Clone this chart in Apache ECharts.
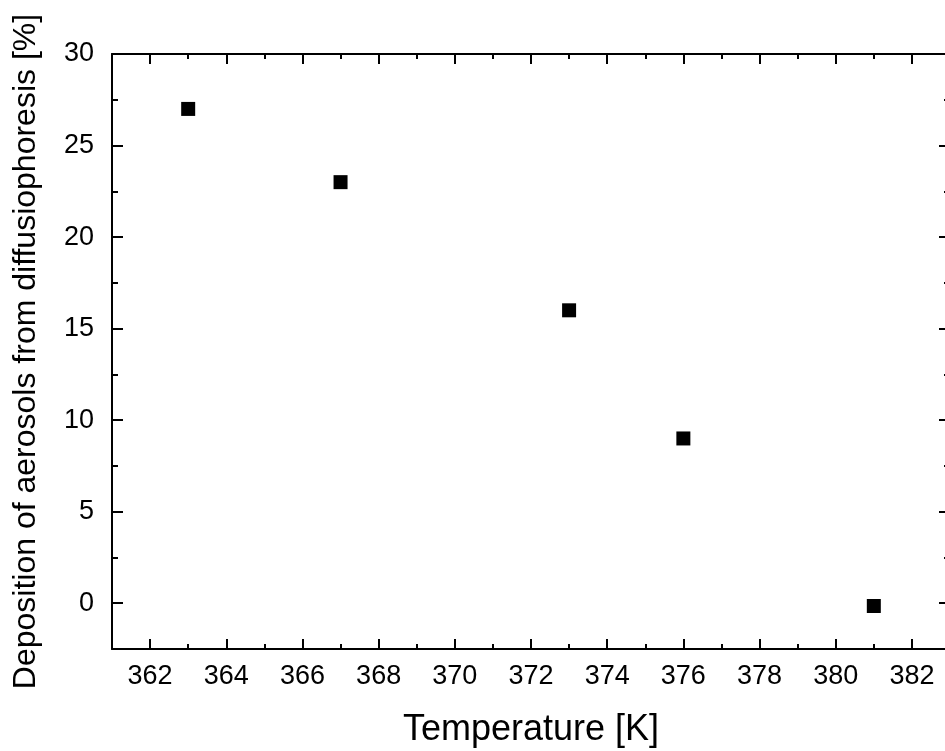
<!DOCTYPE html>
<html>
<head>
<meta charset="utf-8">
<script src="https://cdn.jsdelivr.net/npm/echarts@6/dist/echarts.min.js"></script>
<style>
html,body{margin:0;padding:0;background:#fff;}
#chart{width:945px;height:751px;}
</style>
</head>
<body>
<div id="chart"></div>
<script>
// Data
const temperature = [363, 367, 373, 376, 381];
const deposition = [27, 23, 16, 9, -0.15];

// Axis ranges and tick values
const xMin = 361, xMax = 383;
const yMin = -2.5, yMax = 30;
const xMajorTicks = [362, 364, 366, 368, 370, 372, 374, 376, 378, 380, 382];
const xMinorTicks = [363, 365, 367, 369, 371, 373, 375, 377, 379, 381];
const yMajorTicks = [0, 5, 10, 15, 20, 25, 30];
const yMinorTicks = [2.5, 7.5, 12.5, 17.5, 22.5, 27.5];

const xTitle = 'Temperature [K]';
const yTitle = 'Deposition of aerosols from diffusiophoresis [%]';

const FONT = "'Liberation Sans', Arial, sans-serif";
const lineStyle = {color: '#000', width: 2};

function axisBase(pos, min, max) {
  return {
    type: 'value', position: pos, min: min, max: max,
    splitLine: {show: false},
    axisLine: {show: false, onZero: false, lineStyle: lineStyle},
    axisTick: {show: false},
    axisLabel: {show: false}
  };
}
function tickAxis(pos, min, max, values, len, showLine) {
  const a = axisBase(pos, min, max);
  a.axisLine.show = !!showLine;
  a.axisTick = {show: true, inside: true, length: len, customValues: values, lineStyle: {color: '#000', width: 2}};
  return a;
}

const xMain = tickAxis('bottom', xMin, xMax, xMajorTicks, 10, true);
xMain.axisLabel = {show: true, customValues: xMajorTicks, color: '#000', fontFamily: FONT, fontSize: 27, margin: 14};
xMain.name = xTitle;
xMain.nameLocation = 'middle';
xMain.nameGap = 63;
xMain.nameTextStyle = {color: '#000', fontFamily: FONT, fontSize: 36};

const yMain = tickAxis('left', yMin, yMax, yMajorTicks, 11, true);
yMain.axisLabel = {show: true, customValues: yMajorTicks, color: '#000', fontFamily: FONT, fontSize: 27, margin: 18};
yMain.name = yTitle;
yMain.nameLocation = 'middle';
yMain.nameGap = 70;
yMain.nameTextStyle = {color: '#000', fontFamily: FONT, fontSize: 32};

const option = {
  backgroundColor: '#fff',
  animation: false,
  grid: {left: 112, top: 54, width: 838, height: 595, containLabel: false, outerBoundsMode: 'none'},
  xAxis: [
    xMain,
    tickAxis('bottom', xMin, xMax, xMinorTicks, 5, false),
    tickAxis('top', xMin, xMax, xMajorTicks, 10, true),
    tickAxis('top', xMin, xMax, xMinorTicks, 5, false)
  ],
  yAxis: [
    yMain,
    tickAxis('left', yMin, yMax, yMinorTicks, 6, false),
    tickAxis('right', yMin, yMax, yMajorTicks, 11, true),
    tickAxis('right', yMin, yMax, yMinorTicks, 6, false)
  ],
  series: [{
    type: 'scatter',
    xAxisIndex: 0, yAxisIndex: 0,
    symbol: 'rect', symbolSize: 14,
    itemStyle: {color: '#000', opacity: 1},
    data: temperature.map((t, i) => [t, deposition[i]])
  }]
};

const chart = echarts.init(document.getElementById('chart'), null, {renderer: 'canvas'});
chart.setOption(option);
</script>
</body>
</html>
